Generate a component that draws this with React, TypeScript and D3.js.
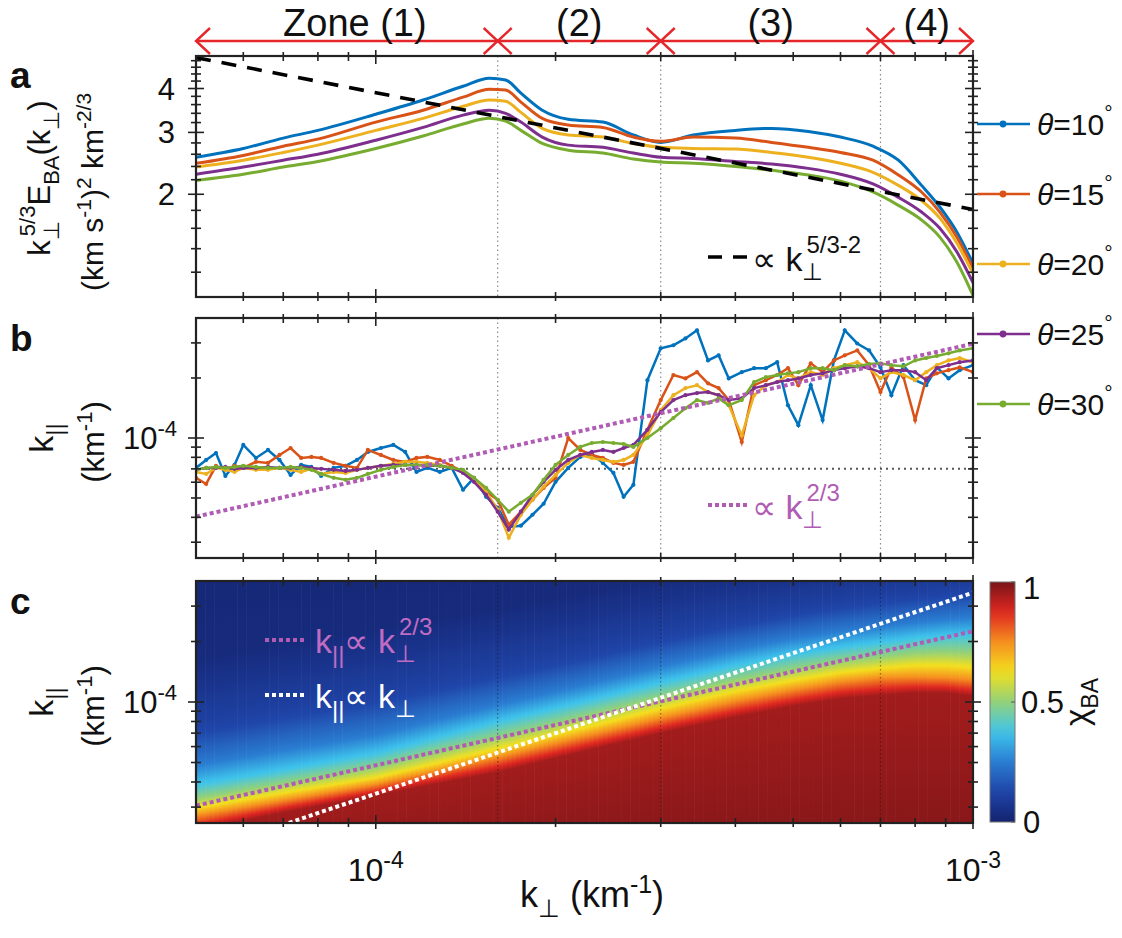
import React from "react";
import * as d3 from "d3";

const FONT = "'Liberation Sans', Arial, Helvetica, sans-serif";
const SX = 1.0;

// k_perp and k_par are in units of 1e-5 km^-1
const kPerpA = [5, 6, 7, 8, 10, 12, 14, 15.5, 16.5, 17.5, 19, 21, 24, 27, 30, 34, 40, 46, 53, 60, 68, 75, 82, 88, 94, 100];
const spec10 = [2.55, 2.70, 2.89, 3.04, 3.38, 3.71, 4.06, 4.28, 4.23, 3.88, 3.47, 3.27, 3.21, 2.95, 2.81, 2.95, 3.04, 3.08, 3.02, 2.91, 2.74, 2.50, 2.12, 1.84, 1.56, 1.27];
const spec15 = [2.45, 2.58, 2.74, 2.87, 3.21, 3.47, 3.78, 3.98, 3.96, 3.66, 3.29, 3.15, 3.10, 2.91, 2.83, 2.91, 2.89, 2.81, 2.72, 2.63, 2.50, 2.27, 2.03, 1.78, 1.51, 1.23];
const spec20 = [2.39, 2.50, 2.63, 2.76, 3.04, 3.29, 3.56, 3.71, 3.68, 3.42, 3.08, 2.95, 2.91, 2.79, 2.72, 2.70, 2.69, 2.63, 2.55, 2.45, 2.31, 2.12, 1.92, 1.71, 1.45, 1.19];
const spec25 = [2.28, 2.39, 2.50, 2.60, 2.85, 3.10, 3.36, 3.47, 3.40, 3.21, 2.91, 2.76, 2.72, 2.62, 2.55, 2.53, 2.48, 2.44, 2.37, 2.28, 2.14, 1.96, 1.78, 1.60, 1.37, 1.12];
const spec30 = [2.19, 2.28, 2.39, 2.48, 2.70, 2.93, 3.17, 3.29, 3.23, 3.04, 2.79, 2.67, 2.62, 2.52, 2.47, 2.45, 2.40, 2.34, 2.27, 2.18, 2.03, 1.86, 1.69, 1.51, 1.28, 1.03];

const kPerpB = [5.0, 5.2, 5.4, 5.6, 5.8, 6.0, 6.3, 6.6, 6.9, 7.2, 7.5, 7.8, 8.1, 8.5, 8.9, 9.3, 9.7, 10.2, 10.7, 11.2, 11.7, 12.2, 12.8, 13.4, 14.0, 14.6, 15.3, 16.0, 16.7, 17.5, 18.3, 19.1, 20, 21, 22, 23, 24, 25, 26, 27, 28.5, 30, 31.5, 33, 34.5, 36, 37.5, 39, 41, 43, 45, 47, 49, 51, 53.5, 56, 58.5, 61, 64, 67, 70, 73, 76.5, 80, 83.5, 87, 91, 95, 100];
const kPar10 = [7.08, 7.76, 8.41, 6.45, 7.33, 9.23, 7.94, 8.71, 7.76, 6.53, 7.33, 7.16, 6.45, 7.08, 7.25, 7.76, 8.51, 8.91, 9.23, 8.51, 6.76, 7.08, 6.76, 7.08, 5.50, 6.31, 5.07, 4.47, 3.58, 3.63, 4.12, 4.68, 6.03, 7.08, 8.04, 8.32, 7.50, 6.68, 5.07, 5.82, 19.5, 28.2, 29.2, 31.6, 34.7, 24.5, 26.0, 19.9, 21.4, 22.4, 22.4, 24.0, 14.6, 11.6, 18.4, 12.3, 24.5, 34.7, 29.8, 27.5, 22.6, 16.4, 23.2, 19.5, 18.4, 22.6, 19.9, 21.9, 23.2];
const kPar15 = [6.31, 5.88, 7.25, 6.92, 7.25, 7.08, 7.59, 7.50, 8.22, 8.91, 7.94, 8.04, 7.94, 7.50, 7.25, 7.08, 8.71, 8.22, 7.76, 7.59, 7.94, 8.04, 7.76, 7.25, 6.76, 6.31, 5.37, 4.90, 3.67, 4.27, 4.90, 5.62, 6.31, 10.0, 8.71, 8.22, 7.94, 7.50, 7.33, 7.59, 11.0, 15.5, 20.7, 19.9, 21.4, 18.8, 17.8, 15.5, 9.55, 18.4, 19.5, 20.7, 22.4, 18.4, 23.7, 21.4, 24.5, 26.0, 27.5, 23.2, 17.0, 22.6, 20.2, 12.3, 19.9, 21.1, 21.9, 22.6, 21.4];
const kPar20 = [6.76, 6.6, 7.08, 6.92, 6.76, 7.08, 6.92, 6.92, 7.08, 6.92, 6.76, 7.0, 6.6, 6.76, 6.68, 6.92, 7.08, 7.25, 7.41, 7.59, 7.59, 7.50, 7.33, 7.08, 6.76, 6.17, 5.37, 4.37, 3.16, 4.12, 4.90, 5.70, 6.53, 7.50, 8.22, 7.94, 7.76, 7.59, 7.76, 8.22, 10.3, 13.8, 16.4, 17.8, 18.4, 17.0, 16.4, 14.6, 10.3, 16.4, 18.4, 19.1, 20.7, 19.9, 21.4, 20.7, 22.4, 23.2, 24.0, 22.4, 19.9, 21.4, 20.7, 19.5, 21.4, 23.2, 24.5, 25.2, 24.0];
const kPar25 = [6.92, 7.08, 7.08, 7.16, 7.0, 7.08, 7.08, 7.16, 7.08, 7.08, 7.16, 7.08, 7.0, 6.92, 6.84, 6.92, 7.08, 7.25, 7.33, 7.33, 7.33, 7.25, 7.25, 7.08, 6.68, 6.03, 5.19, 4.27, 3.47, 4.27, 5.19, 6.03, 6.92, 7.76, 8.22, 8.51, 8.71, 8.51, 8.91, 9.23, 11.0, 13.5, 15.5, 16.4, 16.8, 17.0, 16.4, 15.5, 15.8, 17.8, 18.4, 19.1, 19.5, 19.9, 20.7, 21.1, 21.9, 22.4, 22.9, 22.4, 21.4, 21.9, 21.9, 21.4, 19.5, 22.4, 23.2, 24.0, 24.5];
const kPar30 = [6.92, 7.08, 7.16, 7.08, 7.16, 7.25, 7.16, 7.08, 7.08, 7.16, 7.08, 6.92, 6.6, 6.31, 6.17, 6.31, 6.6, 6.92, 7.16, 7.33, 7.33, 7.33, 7.25, 7.08, 6.92, 6.31, 5.62, 4.90, 4.27, 4.73, 5.19, 6.17, 7.33, 8.22, 9.02, 9.44, 9.55, 9.44, 9.33, 9.02, 10.0, 11.2, 12.6, 14.1, 15.5, 15.0, 15.8, 14.6, 15.5, 19.1, 20.2, 20.7, 21.1, 21.4, 22.4, 22.4, 21.9, 23.2, 22.9, 23.5, 23.7, 23.2, 22.9, 24.5, 25.2, 25.8, 26.6, 27.5, 28.2];

// panel c: k_par where chi_BA reaches each level, read at these k_perp columns
const kPerpC = [5, 7, 10, 16, 22, 30, 40, 50, 60, 70, 80, 90, 100];
const chiLevels = [0.03, 0.12, 0.25, 0.38, 0.5, 0.62, 0.75, 0.95];
const chi03 = [16.2, 19.3, 22.9, 28.8, 34.3, 40.7, 45.7, 48.4, 51.3, 53.1, 54.3, 56.2, 57.5];
const chi12 = [7.24, 8.61, 10.2, 13.6, 16.6, 20.4, 24.5, 27.5, 29.9, 31.6, 33.1, 34.3, 35.5];
const chi25 = [4.84, 5.75, 6.84, 9.66, 12.0, 15.0, 18.2, 20.7, 22.4, 23.7, 24.8, 25.7, 26.3];
const chi38 = [3.85, 4.57, 5.50, 7.94, 9.89, 12.4, 15.1, 17.2, 18.6, 19.7, 20.7, 21.4, 21.6];
const chi50 = [3.31, 3.94, 4.73, 6.68, 8.41, 10.6, 12.9, 14.6, 16.0, 16.8, 17.6, 17.8, 17.6];
const chi62 = [2.99, 3.55, 4.22, 5.89, 7.41, 9.33, 11.4, 12.9, 14.1, 14.8, 15.3, 15.3, 15.0];
const chi75 = [2.72, 3.24, 3.89, 5.31, 6.68, 8.32, 10.1, 11.5, 12.6, 13.2, 13.3, 13.2, 12.9];
const chi95 = [2.29, 2.82, 3.43, 4.47, 5.62, 7.00, 8.41, 9.55, 10.4, 10.8, 11.1, 11.1, 10.7];

const cmapStops = [0, 0.125, 0.25, 0.375, 0.5, 0.625, 0.75, 0.875, 1];
const cmapColors = ["#14236f", "#1f44a8", "#2a7dd2", "#3fc5ec", "#92d17a", "#f4e01e", "#f58f1f", "#df2621", "#7a1518"];

// reference power laws (end points)
const refAk = [5, 100], refAv = [4.9, 1.81];
const refBk = [5, 100], refBv = [4.03, 29.7];
const refC23k = [5, 100], refC23v = [3.05, 22.5];
const refC1k = [5, 100], refC1v = [1.75, 35];
const baseB = 7.0;

const zoneEdges = [5, 16, 30, 70, 100];
const zoneLabels = ["Zone (1)", "(2)", "(3)", "(4)"];
const thetas = ["10", "15", "20", "25", "30"];
const colors = ["#0072BD", "#D95319", "#EDB120", "#7E2F8E", "#77AC30"];

const xMajor = [10, 100];
const xMinor = [6, 7, 8, 9, 20, 30, 40, 50, 60, 70, 80, 90];
const yMajorA = [2, 3, 4];
const yMinorA = [1.2, 1.4, 1.6, 1.8, 2.2, 2.4, 2.6, 2.8, 3.2, 3.4, 3.6, 3.8, 4.2, 4.4, 4.6, 4.8];
const yMajorBC = [10];
const yMinorBC = [3, 4, 5, 6, 7, 8, 9, 20, 30];

const X0 = 196, X1 = 973;
const PA = { top: 56, bottom: 297 };
const PB = { top: 318, bottom: 558 };
const PC = { top: 581, bottom: 823 };
const MAG = "#B05CB4";
const RED = "#E5262B";

function Txt({ x, y, size = 27, anchor = "start", fill = "#111", weight = "normal", rot = false, children }: any) {
  return (
    <text
      transform={`translate(${x},${y}) scale(${SX},1)${rot ? " rotate(-90)" : ""}`}
      fontSize={size}
      textAnchor={anchor}
      fill={fill}
      fontWeight={weight}
      fontFamily={FONT}
    >
      {children}
    </text>
  );
}

function Frame({ x, y, top, bottom, yMajor, yMinor }: any) {
  const out: any[] = [];
  const tk = (a: number, b: number, c: number, d: number, key: string) => (
    <line key={key} x1={a} y1={b} x2={c} y2={d} stroke="#222" strokeWidth={1.6} />
  );
  xMajor.forEach((v) => {
    const px = x(v);
    out.push(tk(px, top - 6, px, top + 8, `xt${v}`));
    out.push(tk(px, bottom - 8, px, bottom + 6, `xb${v}`));
  });
  xMinor.forEach((v) => {
    const px = x(v);
    out.push(tk(px, top - 4, px, top + 5, `xmt${v}`));
    out.push(tk(px, bottom - 5, px, bottom + 4, `xmb${v}`));
  });
  yMajor.forEach((v: number) => {
    const py = y(v);
    out.push(tk(X0 - 8, py, X0 + 8, py, `yl${v}`));
    out.push(tk(X1 - 8, py, X1 + 8, py, `yr${v}`));
  });
  yMinor.forEach((v: number) => {
    const py = y(v);
    out.push(tk(X0 - 5, py, X0 + 5, py, `yml${v}`));
    out.push(tk(X1 - 5, py, X1 + 5, py, `ymr${v}`));
  });
  return (
    <g>
      <rect x={X0} y={top} width={X1 - X0} height={bottom - top} fill="none" stroke="#222" strokeWidth={2.2} />
      {out}
    </g>
  );
}

export default function App() {
  const x = d3.scaleLog().domain([5, 100]).range([X0, X1]);
  const yA = d3.scaleLog().domain([1.02, 4.95]).range([PA.bottom, PA.top]);
  const yB = d3.scaleLog().domain([2.5, 40]).range([PB.bottom, PB.top]);
  const yC = d3.scaleLog().domain([2.5, 40]).range([PC.bottom, PC.top]);

  const lineA = d3.line<number>().x((_, i) => x(kPerpA[i])).y((v) => yA(v)).curve(d3.curveMonotoneX);
  const lineB = d3.line<number>().x((_, i) => x(kPerpB[i])).y((v) => yB(v));
  const seg = (ks: number[], vs: number[], y: any) => d3.line<number>().x((_, i) => x(ks[i])).y((v) => y(v))(vs) as string;

  const specs = [spec10, spec15, spec20, spec25, spec30];
  const kpars = [kPar10, kPar15, kPar20, kPar25, kPar30];

  const cmap = d3.scaleLinear<string>().domain(cmapStops).range(cmapColors).interpolate(d3.interpolateRgb).clamp(true);

  // heat map drawn as thin vertical strips, each with a gradient built from the chi contours
  const rows = [chi03, chi12, chi25, chi38, chi50, chi62, chi75, chi95];
  const lk = kPerpC.map(Math.log10);
  const rowScales = rows.map((r) => d3.scaleLinear().domain(lk).range(r.map(Math.log10)));
  const GY0 = 480, GY1 = 900;
  const nStrips = 170;
  const sw = (X1 - X0) / nStrips;
  const chiSamples = d3.range(0.03, 0.951, 0.02);
  const strips = d3.range(nStrips).map((i) => {
    const xc = X0 + (i + 0.5) * sw;
    const lkc = Math.log10(x.invert(xc));
    const pos = rowScales.map((s) => s(lkc));
    const lvl = d3.scaleLinear().domain(chiLevels).range(pos);
    const stops = chiSamples.map((c) => ({ off: (yC(Math.pow(10, lvl(c))) - GY0) / (GY1 - GY0), col: cmap(c) }));
    return { x0: X0 + i * sw, stops };
  });

  const zoneMid = (a: number, b: number) => x(Math.sqrt(a * b));

  return (
    <svg width={1122} height={938} style={{ position: "absolute", left: 0, top: 0, background: "#fff" }} fontFamily={FONT}>
      <defs>
        <clipPath id="clipA"><rect x={X0} y={PA.top} width={X1 - X0} height={PA.bottom - PA.top} /></clipPath>
        <clipPath id="clipB"><rect x={X0} y={PB.top} width={X1 - X0} height={PB.bottom - PB.top} /></clipPath>
        <clipPath id="clipC"><rect x={X0} y={PC.top} width={X1 - X0} height={PC.bottom - PC.top} /></clipPath>
        {strips.map((s, i) => (
          <linearGradient key={i} id={`st${i}`} gradientUnits="userSpaceOnUse" x1={0} x2={0} y1={GY0} y2={GY1}>
            <stop offset={0} stopColor={cmap(0)} />
            {s.stops.map((st, j) => (
              <stop key={j} offset={Math.max(0, Math.min(1, st.off))} stopColor={st.col} />
            ))}
            <stop offset={1} stopColor={cmap(1)} />
          </linearGradient>
        ))}
        <linearGradient id="cbar" x1={0} x2={0} y1={1} y2={0}>
          {d3.range(0, 1.001, 0.05).map((c, i) => (
            <stop key={i} offset={c} stopColor={cmap(c)} />
          ))}
        </linearGradient>
      </defs>

      {/* zone arrows */}
      {zoneLabels.map((lab, i) => {
        const a = x(zoneEdges[i]), b = x(zoneEdges[i + 1]);
        return (
          <g key={lab} stroke={RED} strokeWidth={2.4} fill="none">
            <line x1={a} y1={41} x2={b} y2={41} />
            <path d={`M${a + 14},${28} L${a},41 L${a + 14},${54}`} />
            <path d={`M${b - 14},${28} L${b},41 L${b - 14},${54}`} />
          </g>
        );
      })}
      {zoneLabels.map((lab, i) => (
        <Txt key={lab} x={zoneMid(zoneEdges[i], zoneEdges[i + 1]) + (i === 0 ? 8 : 0)} y={36} size={38} anchor="middle">{lab}</Txt>
      ))}

      {/* panel a */}
      <g clipPath="url(#clipA)">
        {[16, 30, 70].map((v) => (
          <line key={v} x1={x(v)} x2={x(v)} y1={PA.top} y2={PA.bottom} stroke="#8a8a8a" strokeWidth={1.2} strokeDasharray="1.5,3" />
        ))}
        {specs.map((s, i) => (
          <path key={i} d={lineA(s) as string} fill="none" stroke={colors[i]} strokeWidth={3} />
        ))}
        <path d={seg(refAk, refAv, yA)} fill="none" stroke="#000" strokeWidth={3.6} strokeDasharray="15,11" />
      </g>
      <Frame x={x} y={yA} top={PA.top} bottom={PA.bottom} yMajor={yMajorA} yMinor={yMinorA} />

      {/* panel b */}
      <g clipPath="url(#clipB)">
        {[16, 30, 70].map((v) => (
          <line key={v} x1={x(v)} x2={x(v)} y1={PB.top} y2={PB.bottom} stroke="#8a8a8a" strokeWidth={1.2} strokeDasharray="1.5,3" />
        ))}
        <line x1={X0} x2={X1} y1={yB(baseB)} y2={yB(baseB)} stroke="#555" strokeWidth={2} strokeDasharray="2,4" />
        {kpars.map((s, i) => (
          <g key={i}>
            <path d={lineB(s) as string} fill="none" stroke={colors[i]} strokeWidth={2.5} />
            {s.map((v, j) => (
              <circle key={j} cx={x(kPerpB[j])} cy={yB(v)} r={2.1} fill={colors[i]} />
            ))}
          </g>
        ))}
        <path d={seg(refBk, refBv, yB)} fill="none" stroke={MAG} strokeWidth={4} strokeDasharray="4,3" />
      </g>
      <Frame x={x} y={yB} top={PB.top} bottom={PB.bottom} yMajor={yMajorBC} yMinor={yMinorBC} />

      {/* panel c */}
      <g clipPath="url(#clipC)">
        {strips.map((s, i) => (
          <rect key={i} x={s.x0} y={PC.top} width={sw + 0.6} height={PC.bottom - PC.top} fill={`url(#st${i})`} />
        ))}
        {[16, 30, 70].map((v) => (
          <line key={v} x1={x(v)} x2={x(v)} y1={PC.top} y2={PC.bottom} stroke="#111" strokeOpacity={0.45} strokeWidth={1.2} strokeDasharray="1.5,2.5" />
        ))}
        <path d={seg(refC23k, refC23v, yC)} fill="none" stroke={MAG} strokeWidth={4} strokeDasharray="4,3" />
        <path d={seg(refC1k, refC1v, yC)} fill="none" stroke="#fff" strokeWidth={4} strokeDasharray="4,3" />
      </g>
      <Frame x={x} y={yC} top={PC.top} bottom={PC.bottom} yMajor={yMajorBC} yMinor={yMinorBC} />

      {/* legend, right column */}
      {thetas.map((t, i) => {
        const ly = 124 + i * 70;
        return (
          <g key={t}>
            <line x1={977} x2={1030} y1={ly} y2={ly} stroke={colors[i]} strokeWidth={2.6} />
            <circle cx={1003} cy={ly} r={3.4} fill={colors[i]} />
            <Txt x={1037} y={ly + 11} size={30}>
              <tspan fontStyle="italic">θ</tspan>=<tspan>{t}</tspan>
              <tspan dy={-15} fontSize={21}>°</tspan>
            </Txt>
          </g>
        );
      })}

      {/* in-panel legends */}
      <line x1={708} x2={747} y1={257} y2={257} stroke="#000" strokeWidth={3.6} strokeDasharray="14,11" />
      <Txt x={752} y={271} size={34}>
        ∝ k<tspan dy={9} fontSize={24}>⊥</tspan><tspan dx={-17} dy={-27} fontSize={24}>5/3-2</tspan>
      </Txt>
      <line x1={708} x2={748} y1={505} y2={505} stroke={MAG} strokeWidth={4} strokeDasharray="4,3" />
      <Txt x={752} y={519} size={34} fill={MAG}>
        ∝ k<tspan dy={9} fontSize={24}>⊥</tspan><tspan dx={-17} dy={-27} fontSize={24}>2/3</tspan>
      </Txt>
      <line x1={265} x2={307} y1={640} y2={640} stroke={MAG} strokeWidth={4} strokeDasharray="4,3" />
      <Txt x={315} y={653} size={34} fill="#C06CC3">
        k<tspan dy={10} fontSize={24}>||</tspan><tspan dy={-10}>∝ k</tspan><tspan dy={9} fontSize={24}>⊥</tspan><tspan dx={-17} dy={-27} fontSize={24}>2/3</tspan>
      </Txt>
      <line x1={265} x2={307} y1={695} y2={695} stroke="#fff" strokeWidth={4} strokeDasharray="4,3" />
      <Txt x={315} y={708} size={34} fill="#fff">
        k<tspan dy={10} fontSize={24}>||</tspan><tspan dy={-10}>∝ k</tspan><tspan dy={9} fontSize={24}>⊥</tspan>
      </Txt>

      {/* colour bar */}
      <rect x={990} y={PC.top + 1} width={25} height={PC.bottom - PC.top - 2} fill="url(#cbar)" stroke="#777" strokeWidth={1} />
      {[0, 0.5, 1].map((c) => {
        const cy = PC.bottom - 1 - c * (PC.bottom - PC.top - 2);
        return <line key={c} x1={1011} x2={1015} y1={cy} y2={cy} stroke="#555" strokeWidth={1} />;
      })}
      <Txt x={1023} y={599} size={31}>1</Txt>
      <Txt x={1021} y={713} size={31}>0.5</Txt>
      <Txt x={1023} y={833} size={31}>0</Txt>
      <Txt x={1088} y={702} size={33} anchor="middle" rot>
        χ<tspan dy={10} fontSize={23}>BA</tspan>
      </Txt>

      {/* panel letters */}
      <Txt x={10} y={88} size={37} weight="bold">a</Txt>
      <Txt x={10} y={351} size={37} weight="bold">b</Txt>
      <Txt x={10} y={614} size={37} weight="bold">c</Txt>

      {/* y tick labels */}
      {yMajorA.map((v) => (
        <Txt key={v} x={175} y={yA(v) + 11} size={31} anchor="end">{v}</Txt>
      ))}
      <Txt x={177} y={yB(10) + 11} size={31} anchor="end">10<tspan dy={-13} fontSize={22}>-4</tspan></Txt>
      <Txt x={177} y={yC(10) + 11} size={31} anchor="end">10<tspan dy={-13} fontSize={22}>-4</tspan></Txt>

      {/* y axis labels */}
      <Txt x={50} y={178} size={31} anchor="middle" rot>
        k<tspan dy={9} fontSize={22}>⊥</tspan><tspan dx={-15} dy={-24} fontSize={22}>5/3</tspan><tspan dy={15}>E</tspan><tspan dy={9} fontSize={22}>BA</tspan><tspan dy={-9}>(k</tspan><tspan dy={9} fontSize={22}>⊥</tspan><tspan dy={-9}>)</tspan>
      </Txt>
      <Txt x={103} y={192} size={30} anchor="middle" rot>
        (km s<tspan dy={-12} fontSize={21}>-1</tspan><tspan dy={12}>)</tspan><tspan dy={-12} fontSize={21}>2</tspan><tspan dy={12}> km</tspan><tspan dy={-12} fontSize={21}>-2/3</tspan>
      </Txt>
      {[yB(10), yC(10)].map((cy, i) => (
        <g key={i}>
          <Txt x={53} y={cy} size={34} anchor="middle" rot>
            k<tspan dy={10} fontSize={24}>||</tspan>
          </Txt>
          <Txt x={104} y={cy + 4} size={31} anchor="middle" rot>
            (km<tspan dy={-12} fontSize={22}>-1</tspan><tspan dy={12}>)</tspan>
          </Txt>
        </g>
      ))}

      {/* x tick labels and label */}
      {xMajor.map((v) => (
        <Txt key={v} x={x(v)} y={881} size={32} anchor="middle">
          10<tspan dy={-13} fontSize={23}>{v === 10 ? "-4" : "-3"}</tspan>
        </Txt>
      ))}
      <Txt x={592} y={907} size={36} anchor="middle">
        k<tspan dy={10} fontSize={25}>⊥</tspan><tspan dy={-10}> (km</tspan><tspan dy={-14} fontSize={25}>-1</tspan><tspan dy={14}>)</tspan>
      </Txt>
    </svg>
  );
}
